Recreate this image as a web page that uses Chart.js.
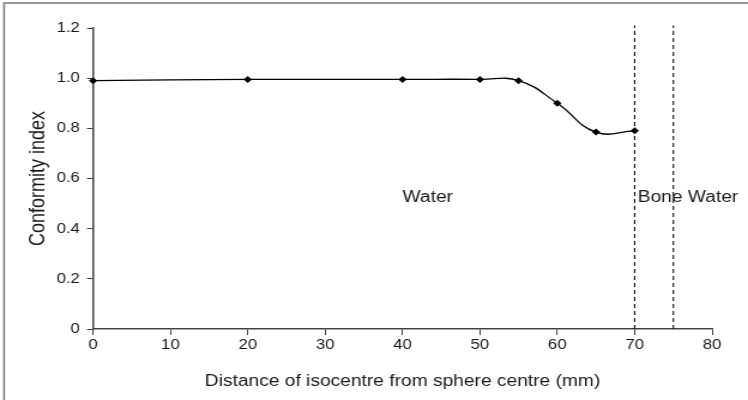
<!DOCTYPE html>
<html>
<head>
<meta charset="utf-8">
<script src="https://cdn.jsdelivr.net/npm/chart.js@4/dist/chart.umd.min.js"></script>
<style>
html,body{margin:0;padding:0;background:#fff;overflow:hidden;}
#wrap{position:relative;width:748px;height:400px;overflow:hidden;}
canvas{display:block;transform-origin:0 0;transform:scaleX(1.19872);}
</style>
</head>
<body>
<div id="wrap"><canvas id="c" width="624" height="400"></canvas></div>
<script>
// Data
const distances = [0, 20, 40, 50, 55, 60, 65, 70];
const conformity = [0.99, 0.995, 0.995, 0.995, 0.99, 0.90, 0.785, 0.79];
const boundaryX = [70, 75];
const boundaryTop = 1.21;
const regionLabels = ['Water', 'Bone Water'];
const regionLabelX = [40, 70.4];
const regionLabelY = 0.525;
const xTicks = [0, 10, 20, 30, 40, 50, 60, 70, 80];
const yTicks = [0, 0.2, 0.4, 0.6, 0.8, 1.0, 1.2];

const FONT = "'Liberation Sans', Arial, Helvetica, sans-serif";
const AXIS = '#444';
const TEXT = '#1a1a1a';

const mainData = distances.map((d, i) => ({x: d, y: conformity[i]}));
const boundarySets = boundaryX.map(bx => ({
  data: [{x: bx, y: 0}, {x: bx, y: boundaryTop}],
  borderColor: '#111',
  borderWidth: 1.1,
  borderDash: [4, 3],
  pointRadius: 0,
  tension: 0,
  clip: false
}));

const framePlugin = {
  id: 'frame',
  beforeDraw(chart) {
    const ctx = chart.ctx;
    ctx.save();
    ctx.fillStyle = '#fff';
    ctx.fillRect(0, 0, chart.width, chart.height);
    ctx.strokeStyle = '#777';
    ctx.lineWidth = 1.5;
    ctx.strokeRect(3.4, 3, chart.width + 10, chart.height + 10);
    ctx.restore();
  }
};

const labelPlugin = {
  id: 'regionLabels',
  afterDatasetsDraw(chart) {
    const ctx = chart.ctx;
    const xs = chart.scales.x, ys = chart.scales.y;
    ctx.save();
    ctx.font = '16px ' + FONT;
    ctx.fillStyle = TEXT;
    ctx.textAlign = 'left';
    ctx.textBaseline = 'middle';
    regionLabels.forEach((t, i) => {
      ctx.fillText(t, xs.getPixelForValue(regionLabelX[i]), ys.getPixelForValue(regionLabelY));
    });
    ctx.restore();
  }
};

new Chart(document.getElementById('c'), {
  type: 'line',
  data: {
    datasets: [
      {
        data: mainData,
        borderColor: '#000',
        backgroundColor: '#000',
        borderWidth: 1.3,
        pointStyle: 'rectRot',
        pointRadius: 3.5,
        pointBorderWidth: 0,
        tension: 0.45,
        cubicInterpolationMode: 'default',
        clip: false
      },
      ...boundarySets
    ]
  },
  options: {
    responsive: false,
    animation: false,
    devicePixelRatio: 1,
    layout: {padding: {left: 0, top: 28, right: 30, bottom: 0}},
    plugins: {legend: {display: false}, tooltip: {enabled: false}},
    scales: {
      x: {
        type: 'linear',
        min: 0, max: 80,
        afterFit(s) { s.height = 71; },
        afterBuildTicks(s) { s.ticks = xTicks.map(v => ({value: v})); },
        grid: {display: true, drawOnChartArea: false, drawTicks: true, tickLength: 6, color: AXIS, lineWidth: 1},
        border: {display: true, color: AXIS, width: 1.5},
        ticks: {color: TEXT, font: {family: FONT, size: 14}, padding: 2, maxRotation: 0},
        title: {display: true, text: 'Distance of isocentre from sphere centre (mm)', color: TEXT, font: {family: FONT, size: 16}, padding: {top: 0, bottom: 9}}
      },
      y: {
        type: 'linear',
        min: 0, max: 1.2,
        afterFit(s) { s.width = 77.6; },
        afterBuildTicks(s) { s.ticks = yTicks.map(v => ({value: v})); },
        grid: {display: true, drawOnChartArea: false, drawTicks: true, tickLength: 5, color: AXIS, lineWidth: 1},
        border: {display: true, color: AXIS, width: 1.5},
        ticks: {color: TEXT, font: {family: FONT, size: 14}, padding: 6,
          callback: v => (v === 0 ? '0' : v.toFixed(1))},
        title: {display: true, text: 'Conformity index', color: TEXT, font: {family: FONT, size: 18}, padding: {top: 21, bottom: 0}}
      }
    }
  },
  plugins: [framePlugin, labelPlugin]
});
</script>
</body>
</html>
